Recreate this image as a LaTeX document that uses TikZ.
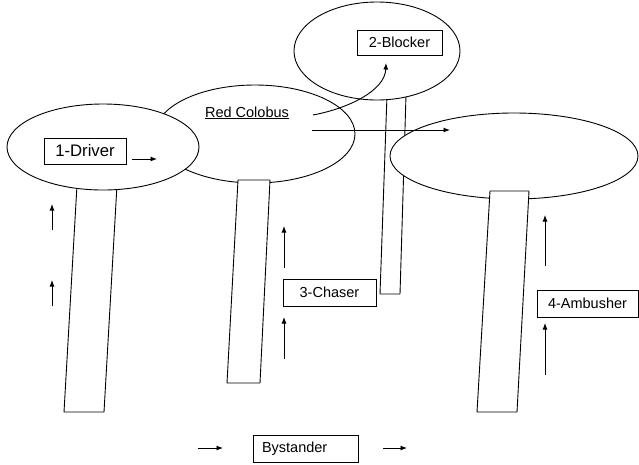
\documentclass[tikz,border=0pt]{standalone}
\usepackage{fontspec}
\setmainfont{Liberation Sans}
\usetikzlibrary{arrows.meta}

\begin{document}
\begin{tikzpicture}[x=1pt, y=-1pt, >={Latex[length=6.5pt, width=5pt]}, line width=0.9pt,
    canopy/.style={draw, fill=white},
    trunk/.style={draw, fill=white, line join=round},
    role/.style={draw, fill=white, inner sep=0pt, font=\fontsize{14.5}{16}\selectfont}]
    \useasboundingbox (0,0) rectangle (639,464);
    % trees, back to front
    \draw[trunk] (77,185) -- (117,185) -- (104,412) -- (64,412) -- cycle;
    \draw[canopy] (255,134) ellipse (100pt and 49pt);
    \draw[canopy] (103,147) ellipse (96pt and 43pt);
    \draw[trunk] (238,180) -- (270,180) -- (260,383) -- (227,383) -- cycle;
    \draw[trunk] (387,95) -- (406,95) -- (400,294) -- (380,294) -- cycle;
    \draw[canopy] (377,51) ellipse (83pt and 49pt);
    \draw[canopy] (514,156) ellipse (124pt and 43pt);
    \draw[trunk] (490,191) -- (529,191) -- (517,412) -- (477,412) -- cycle;
    % roles
    \node[role, minimum width=82pt, minimum height=26pt, font=\fontsize{16.7}{18}\selectfont] (driver) at (85,151) {1-Driver};
    \node[anchor=base, inner sep=0pt, font=\fontsize{14.5}{16}\selectfont] (colobus) at (247,117) {\underline{Red Colobus}};
    \node[role, minimum width=85pt, minimum height=25pt] (blocker) at (399.5,42.5) {2-Blocker};
    \node[role, minimum width=93pt, minimum height=27pt] (chaser) at (329.5,292.5) {3-Chaser};
    \node[role, minimum width=101pt, minimum height=27pt] (ambusher) at (587.5,303.5) {4-Ambusher};
    \node[role, minimum height=27pt, text width=87pt, inner xsep=9pt, align=left] (bystander) at (305.5,448.5) {Bystander};
    % movements
    \draw[->] (132,159) -- (157,159);
    \draw[->] (313,115) .. controls (350,108) and (385,90) .. (386,63);
    \draw[->] (312,130) -- (450,130);
    \draw[->] (52,230) -- (52,204);
    \draw[->] (52,306) -- (52,280);
    \draw[->] (284,268) -- (284,226);
    \draw[->] (284,359) -- (284,317);
    \draw[->] (545,266) -- (545,215);
    \draw[->] (545,375) -- (545,323);
    \draw[->] (198,448) -- (223,448);
    \draw[->] (383,448) -- (407,448);
\end{tikzpicture}
\end{document}
